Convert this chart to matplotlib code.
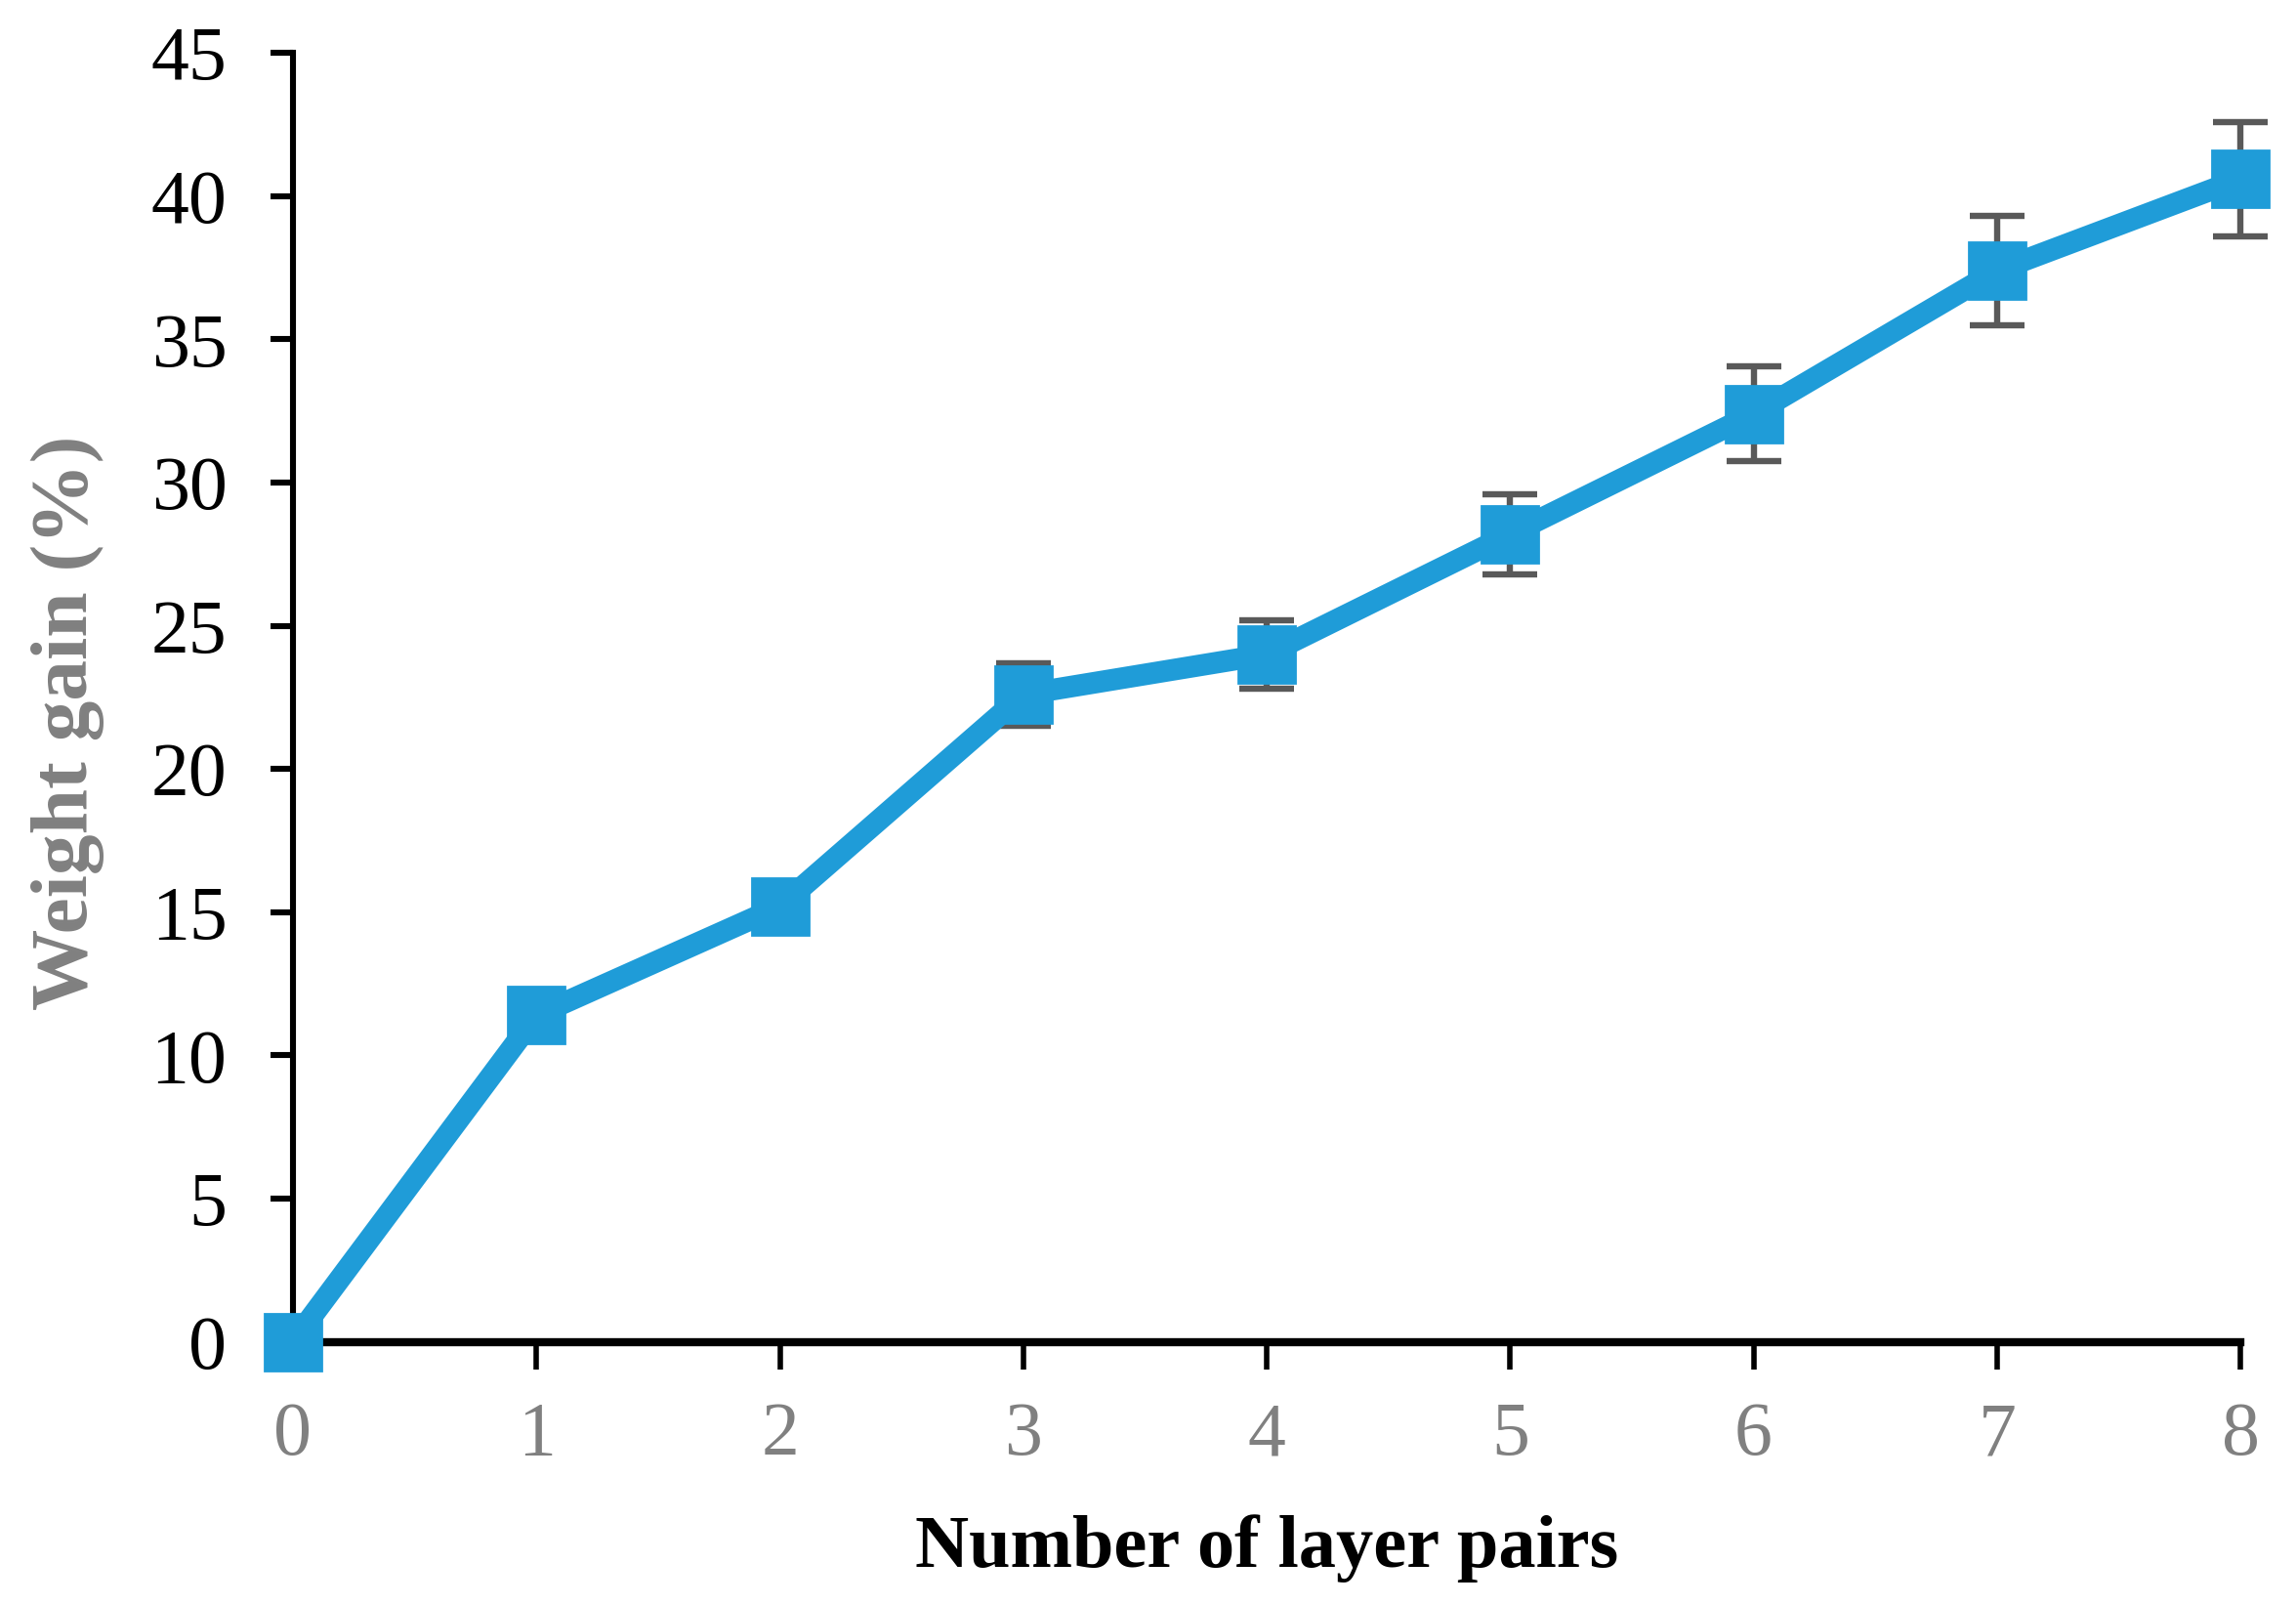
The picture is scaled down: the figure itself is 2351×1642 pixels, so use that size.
import matplotlib
matplotlib.use("Agg")
import matplotlib.pyplot as plt
from matplotlib import font_manager

# weight gain vs number of layer pairs
layer_pairs = [0, 1, 2, 3, 4, 5, 6, 7, 8]
weight_gain = [0, 11.4, 15.2, 22.6, 24.0, 28.2, 32.4, 37.4, 40.6]
gain_err = [0, 0.5, 0.5, 1.1, 1.2, 1.4, 1.65, 1.9, 2.0]

# make sure the Times-like font is really there
font_manager.findfont('Liberation Serif', fallback_to_default=False)
plt.rcParams['font.family'] = ['Liberation Serif', 'DejaVu Serif']

fig = plt.figure(figsize=(11.755, 8.21), dpi=200)
ax = fig.add_axes([0.1276, 0.1635, 0.8482, 0.8035])

ax.errorbar(layer_pairs, weight_gain, yerr=gain_err, fmt='none',
            ecolor='#595959', elinewidth=2.3, capsize=10, capthick=2.3,
            zorder=2, clip_on=False)
ax.plot(layer_pairs, weight_gain, color='#1F9CD8', lw=8, marker='s',
        markersize=21, zorder=3, clip_on=False)

ax.set_xlim(0, 8)
ax.set_ylim(0, 45)
ax.set_xticks(range(0, 9))
ax.set_yticks(range(0, 50, 5))

for s in ['top', 'right']:
    ax.spines[s].set_visible(False)
ax.spines['left'].set_linewidth(2.2)
ax.spines['bottom'].set_linewidth(3.0)

ax.tick_params(axis='y', direction='out', length=8.3, width=2.2, labelsize=28,
               labelcolor='black', pad=16)
ax.tick_params(axis='x', direction='out', length=10, width=2.0, labelsize=28,
               labelcolor='#808080', pad=12)

ax.set_xlabel('Number of layer pairs', fontsize=27.5, fontweight='bold',
              color='black', labelpad=16)
ax.set_ylabel('Weight gain (%)', fontsize=30, fontweight='bold',
              color='#808080', labelpad=18)
ax.yaxis.set_label_coords(-0.097, 0.48)

fig.savefig('out.png', dpi=200)
